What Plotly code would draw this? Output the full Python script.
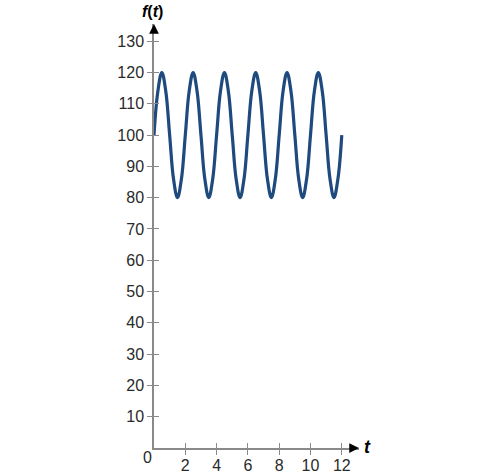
import plotly.graph_objects as go

# values, every quarter unit of t
t = [0, 0.25, 0.5, 0.75, 1, 1.25, 1.5, 1.75,
     2, 2.25, 2.5, 2.75, 3, 3.25, 3.5, 3.75,
     4, 4.25, 4.5, 4.75, 5, 5.25, 5.5, 5.75,
     6, 6.25, 6.5, 6.75, 7, 7.25, 7.5, 7.75,
     8, 8.25, 8.5, 8.75, 9, 9.25, 9.5, 9.75,
     10, 10.25, 10.5, 10.75, 11, 11.25, 11.5, 11.75, 12]
f = [100, 114.1, 120, 114.1, 100, 85.9, 80, 85.9,
     100, 114.1, 120, 114.1, 100, 85.9, 80, 85.9,
     100, 114.1, 120, 114.1, 100, 85.9, 80, 85.9,
     100, 114.1, 120, 114.1, 100, 85.9, 80, 85.9,
     100, 114.1, 120, 114.1, 100, 85.9, 80, 85.9,
     100, 114.1, 120, 114.1, 100, 85.9, 80, 85.9, 100]

x_ticks = [2, 4, 6, 8, 10, 12]
y_ticks = [10, 20, 30, 40, 50, 60, 70, 80, 90, 100, 110, 120, 130]

XMAX = 13.1
YMAX = 135.5
axis_grey = "#8a8a8a"
font = dict(family="Liberation Sans, Arial, sans-serif", size=16, color="#2a2a2a")

fig = go.Figure()
fig.add_trace(go.Scatter(x=t, y=f, mode="lines",
                         line=dict(color="#1e4a7e", width=3.2, shape="spline", smoothing=1.1),
                         hoverinfo="skip"))
# dummy trace so the overlay axes (inside ticks) get drawn
fig.add_trace(go.Scatter(x=[0], y=[0], xaxis="x2", yaxis="y2", mode="markers",
                         marker=dict(opacity=0), hoverinfo="skip"))

fig.update_layout(
    width=487, height=475,
    margin=dict(l=154, r=487 - 359, t=24, b=27),
    plot_bgcolor="white", paper_bgcolor="white",
    showlegend=False,
    font=font,
    xaxis=dict(range=[0, XMAX], tickvals=x_ticks, ticks="outside", ticklen=5,
               tickcolor=axis_grey, tickwidth=1.2, showline=True, linecolor=axis_grey,
               linewidth=1.5, showgrid=False, zeroline=False, tickfont=font,
               ticklabelstandoff=-3, automargin=False),
    yaxis=dict(range=[0, YMAX], tickvals=y_ticks, ticks="outside", ticklen=5,
               tickcolor=axis_grey, tickwidth=1.2, showline=True, linecolor=axis_grey,
               linewidth=1.5, showgrid=False, zeroline=False, tickfont=font,
               automargin=False),
    xaxis2=dict(range=[0, XMAX], overlaying="x", anchor="y2", tickvals=x_ticks,
                ticks="inside", ticklen=5, tickcolor=axis_grey, tickwidth=1.2,
                showticklabels=False, showline=False, showgrid=False, zeroline=False),
    yaxis2=dict(range=[0, YMAX], overlaying="y", anchor="x2", tickvals=y_ticks,
                ticks="inside", ticklen=5, tickcolor=axis_grey, tickwidth=1.2,
                showticklabels=False, showline=False, showgrid=False, zeroline=False),
)

# axis arrows
fig.add_annotation(x=XMAX, y=0, xref="x", yref="y", ax=-9, ay=0, text="",
                   showarrow=True, arrowhead=2, arrowsize=1.3, arrowwidth=1.5,
                   arrowcolor="black")
fig.add_annotation(x=0, y=YMAX, xref="x", yref="y", ax=0, ay=9, text="",
                   showarrow=True, arrowhead=2, arrowsize=1.3, arrowwidth=1.5,
                   arrowcolor="black")

# axis titles and origin label
fig.add_annotation(x=XMAX, y=0, xref="x", yref="y", text="<b><i>t</i></b>",
                   showarrow=False, xanchor="left", xshift=3, yshift=1,
                   font=dict(family="Liberation Sans, Arial, sans-serif", size=18, color="black"))
fig.add_annotation(x=0, y=YMAX, xref="x", yref="y", text="<b><i>f</i>(<i>t</i>)</b>",
                   showarrow=False, yanchor="bottom", xshift=-2, yshift=2,
                   font=dict(family="Liberation Sans, Arial, sans-serif", size=16, color="black"))
fig.add_annotation(x=0, y=0, xref="x", yref="y", text="0", showarrow=False,
                   xanchor="center", yanchor="middle", xshift=-7, yshift=-9, font=font)

# drop the default 8px page margin so the 487x475 figure fills the window
fig.write_html("out.html", config={"displayModeBar": False},
               post_script="document.body.style.margin='0';")
